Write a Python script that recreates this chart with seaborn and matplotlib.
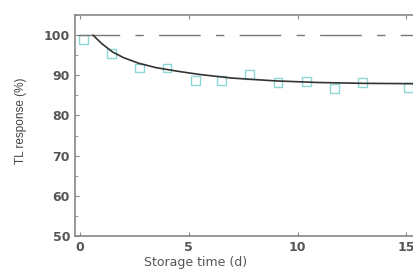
import pandas as pd
import seaborn as sns
import matplotlib.pyplot as plt
from matplotlib.ticker import MultipleLocator

# measured points (open squares)
days = [0.15, 1.45, 2.75, 4.0, 5.3, 6.5, 7.8, 9.1, 10.4, 11.7, 13.0, 15.1]
resp = [99.0, 95.5, 91.8, 91.8, 88.8, 88.8, 90.2, 88.3, 88.5, 86.8, 88.2, 87.0]

# fitted decay curve
fit_t = [0.6, 1.0, 1.5, 2.0, 2.7, 3.5, 4.5, 5.5, 7.0, 9.0, 11.0, 13.0, 15.6]
fit_y = [100.0, 97.9, 95.8, 94.4, 93.0, 91.9, 91.0, 90.2, 89.3, 88.6, 88.2, 88.0, 87.9]

ref_t = [-0.1, 15.6]
ref_y = [100, 100]

pts = pd.DataFrame({'t': days, 'r': resp})
fit = pd.DataFrame({'t': fit_t, 'r': fit_y})

sns.set_style('ticks')
plt.rcParams['font.family'] = ['DejaVu Sans']

fig = plt.figure(figsize=(4.14, 2.69), dpi=100)
ax = fig.add_axes([0.181, 0.123, 0.83, 0.821])

ax.plot(ref_t, ref_y, color='#777777', lw=1.0, dashes=(30, 11, 6, 11))
sns.lineplot(data=fit, x='t', y='r', ax=ax, color='#333333', lw=1.2)
sns.scatterplot(data=pts, x='t', y='r', ax=ax, marker='s', s=40,
                facecolor='none', edgecolor='#8fd6d6', linewidth=1.0)

ax.set_xlim(-0.23, 15.56)
ax.set_ylim(50, 105)
ax.set_xticks([0, 5, 10, 15])
ax.set_yticks([50, 60, 70, 80, 90, 100])
ax.yaxis.set_minor_locator(MultipleLocator(5))
ax.tick_params(direction='in', top=True, right=True, which='both',
               colors='#888888', labelcolor='#555555', labelsize=9, length=3)
ax.tick_params(which='minor', length=2)
for lab in ax.get_xticklabels() + ax.get_yticklabels():
    lab.set_fontweight('bold')
for s in ax.spines.values():
    s.set_color('#888888')
    s.set_linewidth(1.2)

ax.set_xlabel('Storage time (d)', fontsize=9, color='#555555')
ax.xaxis.set_label_coords(0.35, -0.09)
ax.set_ylabel('TL response (%)', fontsize=8.5, color='#444444',
              family='Liberation Sans')
ax.yaxis.set_label_coords(-0.14, 0.52)

plt.savefig('out.png', dpi=100)
plt.close()
